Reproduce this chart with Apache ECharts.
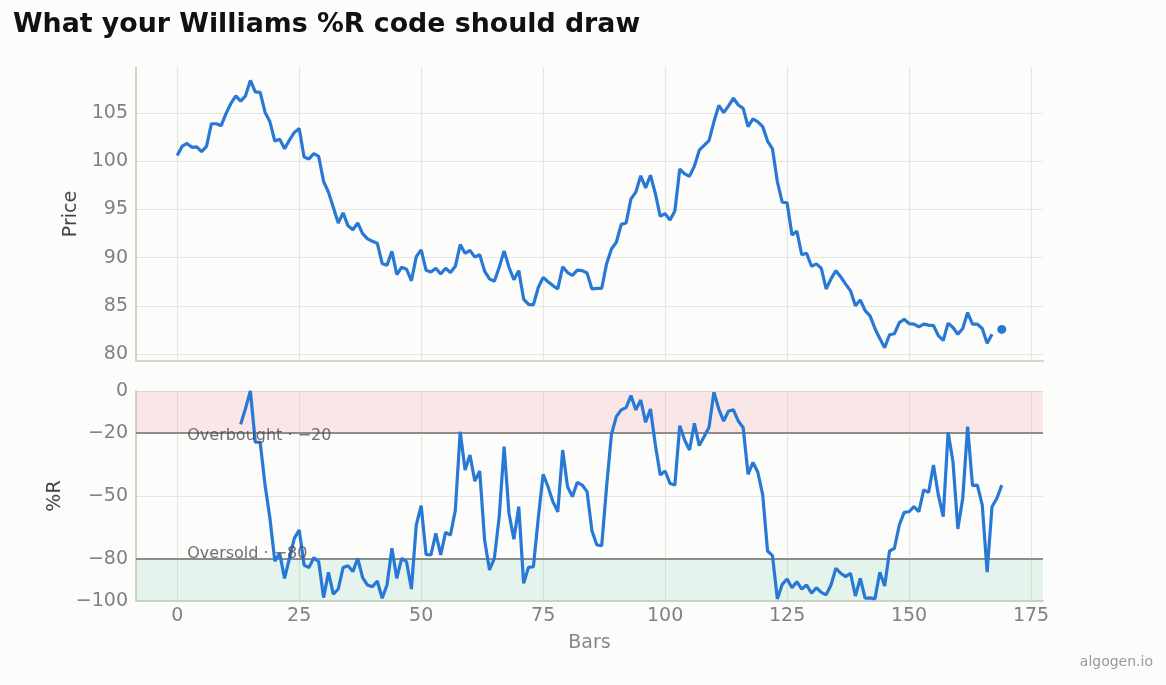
<!DOCTYPE html>
<html>
<head>
<meta charset="utf-8">
<title>Williams %R</title>
<script src="https://cdn.jsdelivr.net/npm/echarts@6/dist/echarts.min.js"></script>
<style>
	html, body { margin: 0; padding: 0; background: #fcfcfb; }
	#chart { width: 1166px; height: 685px; }
</style>
</head>
<body>
<div id="chart"></div>
<script>
//价格（第168根缺失）
var price = [
	100.6, 101.55, 101.85, 101.45, 101.5, 101.0, 101.55, 103.9, 103.9, 103.7,
	104.95, 106.0, 106.8, 106.25, 106.8, 108.4, 107.2, 107.15, 105.1, 104.1,
	102.1, 102.3, 101.3, 102.2, 103.0, 103.4, 100.45, 100.25, 100.8, 100.5,
	97.9, 96.8, 95.2, 93.6, 94.65, 93.3, 92.9, 93.6, 92.5, 91.95,
	91.7, 91.5, 89.4, 89.2, 90.65, 88.25, 89.0, 88.8, 87.6, 90.1,
	90.8, 88.7, 88.5, 88.9, 88.3, 88.9, 88.45, 89.1, 91.35, 90.45,
	90.75, 90.05, 90.3, 88.6, 87.8, 87.55, 89.0, 90.7, 89.0, 87.7,
	88.65, 85.7, 85.15, 85.1, 86.9, 87.95, 87.5, 87.1, 86.75, 89.05,
	88.45, 88.15, 88.7, 88.65, 88.4, 86.75, 86.8, 86.8, 89.35, 90.9,
	91.6, 93.45, 93.6, 96.1, 96.8, 98.5, 97.25, 98.55, 96.65, 94.3,
	94.55, 93.9, 94.85, 99.2, 98.7, 98.45, 99.5, 101.15, 101.65, 102.15,
	104.1, 105.8, 105.05, 105.75, 106.55, 105.85, 105.5, 103.6, 104.4, 104.1,
	103.6, 102.1, 101.3, 97.9, 95.75, 95.7, 92.35, 92.75, 90.3, 90.45,
	89.1, 89.35, 88.9, 86.75, 87.8, 88.65, 88.0, 87.25, 86.55, 85.0,
	85.6, 84.5, 83.95, 82.65, 81.6, 80.65, 82.0, 82.1, 83.25, 83.6,
	83.15, 83.1, 82.8, 83.1, 83.0, 82.95, 81.9, 81.4, 83.2, 82.75,
	82.05, 82.65, 84.3, 83.1, 83.1, 82.65, 81.1, 82.05, null, 82.55
];

//%R 从第13根开始
var wprStart = 13;
var wpr = [
	-15.9, -8.3, 0, -24.4, -24.4, -44.8, -60.6,
	-81.0, -77.3, -89.2, -79.7, -70.2, -66.2, -82.9, -84.1, -79.4, -81.3,
	-98.4, -86.3, -96.8, -94.3, -84.1, -83.2, -86.0, -79.7, -88.9, -92.4,
	-93.2, -90.5, -98.7, -92.4, -74.9, -89.2, -79.7, -81.3, -94.3, -63.8,
	-54.6, -77.8, -78.1, -67.8, -78.1, -67.3, -68.6, -56.7, -19.4, -37.6,
	-30.5, -42.9, -38.1, -71.0, -85.2, -79.7, -59.8, -26.5, -58.3, -70.6,
	-55.1, -91.6, -84.0, -83.7, -60.6, -39.7, -45.6, -52.7, -57.5, -28.1,
	-45.6, -50.3, -43.5, -44.8, -47.9, -66.5, -73.3, -73.7, -45.6, -20.6,
	-12.2, -9.0, -7.9, -2.2, -9.0, -4.3, -14.9, -8.6, -25.7, -40.0,
	-38.1, -44.0, -44.8, -16.5, -23.3, -28.1, -15.4, -26.0, -21.7, -17.3,
	-0.6, -8.6, -14.3, -9.5, -9.0, -14.3, -17.5, -39.7, -34.0, -38.7,
	-49.5, -76.2, -78.4, -99.0, -92.1, -89.5, -93.7, -90.8, -94.3, -92.4,
	-96.3, -93.7, -95.9, -97.1, -92.4, -84.4, -86.8, -88.4, -86.8, -97.6,
	-89.2, -98.7, -98.5, -99.0, -86.3, -92.9, -76.2, -74.9, -63.8, -57.8,
	-57.5, -55.1, -57.5, -47.1, -48.3, -35.2, -49.5, -59.8, -19.7, -33.7,
	-65.7, -51.1, -17.0, -45.1, -44.8, -54.3, -86.3, -55.1, -51.1, -44.8
];

//刻度
var xTicks = [0, 25, 50, 75, 100, 125, 150, 175];
var priceTicks = [80, 85, 90, 95, 100, 105];
var wprTicks = [0, -20, -50, -80, -100];
var overbought = -20;
var oversold = -80;
var levelLabels = ["Overbought · \u221220", "Oversold · \u221280"];

var blue = "#2878d6";
var axisCol = "#c8c8be";
var gridCol = "#e5e5e1";
var tickCol = "#808080";
var fontName = "DejaVu Sans";

function minus(v) {
	return String(v).replace("-", "\u2212");
}

var priceData = [];
for (var i = 0; i < price.length; i++) {
	priceData.push([i, price[i]]);
}
var lastIdx = price.length - 1;
var wprData = [];
for (var j = 0; j < wpr.length; j++) {
	wprData.push([wprStart + j, wpr[j]]);
}

function xAxisOf(idx, showLabel) {
	return {
		type: "value", gridIndex: idx, min: -8.45, max: 177.45,
		axisLine: { show: true, onZero: false, lineStyle: { color: axisCol, width: 1.6 } },
		axisTick: { show: false, customValues: xTicks },
		axisLabel: { show: showLabel, customValues: xTicks, color: tickCol, fontSize: 19, fontFamily: fontName, margin: 6 },
		splitLine: { show: true, lineStyle: { color: gridCol, width: 1.2 } },
		name: showLabel ? "Bars" : "", nameLocation: "middle", nameGap: 33,
		nameTextStyle: { color: "#888", fontSize: 19, fontFamily: fontName }
	};
}

function yAxisOf(idx, lo, hi, ticks, title, gap, fmt) {
	return {
		type: "value", gridIndex: idx, min: lo, max: hi,
		axisLine: { show: true, onZero: false, lineStyle: { color: axisCol, width: 1.6 } },
		axisTick: { show: false, customValues: ticks },
		axisLabel: { customValues: ticks, color: tickCol, fontSize: 19, fontFamily: fontName, margin: 8, formatter: fmt },
		splitLine: { show: true, lineStyle: { color: gridCol, width: 1.2 } },
		name: title, nameLocation: "middle", nameGap: gap,
		nameTextStyle: { color: "#444", fontSize: 19, fontFamily: fontName }
	};
}

var chart = echarts.init(document.getElementById("chart"));
chart.setOption({
	backgroundColor: "#fcfcfb",
	animation: false,
	title: {
		text: "What your Williams %R code should draw",
		left: 13, top: 12, padding: 0,
		textStyle: { fontSize: 26.8, fontWeight: "bold", color: "#111", fontFamily: fontName }
	},
	graphic: [{
		type: "text", right: 13, top: 655,
		style: { text: "algogen.io", fill: "#999", fontSize: 14, fontFamily: fontName }
	}],
	grid: [
		{ left: 136, top: 67, width: 907, height: 294 },
		{ left: 136, top: 391, width: 907, height: 210 }
	],
	xAxis: [xAxisOf(0, false), xAxisOf(1, true)],
	yAxis: [
		yAxisOf(0, 79.27, 109.79, priceTicks, "Price", 54, null),
		yAxisOf(1, -100, 0, wprTicks, "%R", 71, minus)
	],
	series: [{
		type: "line", xAxisIndex: 0, yAxisIndex: 0,
		data: priceData, showSymbol: false, connectNulls: false,
		lineStyle: { color: blue, width: 3.2 }, z: 5
	}, {
		type: "scatter", xAxisIndex: 0, yAxisIndex: 0,
		data: [priceData[lastIdx]], symbolSize: 9,
		itemStyle: { color: blue, opacity: 1 }, z: 5
	}, {
		type: "line", xAxisIndex: 1, yAxisIndex: 1,
		data: wprData, showSymbol: false,
		lineStyle: { color: blue, width: 3.2 }, z: 5,
		markArea: {
			silent: true,
			data: [
				[{ yAxis: overbought, itemStyle: { color: "rgba(235,150,150,0.2)" } }, { yAxis: 0 }],
				[{ yAxis: -100, itemStyle: { color: "rgba(110,200,160,0.17)" } }, { yAxis: oversold }]
			]
		},
		markLine: {
			silent: true, symbol: "none",
			label: { show: false },
			lineStyle: { color: "#8c8c88", width: 2, type: "solid" },
			data: [{ yAxis: overbought }, { yAxis: oversold }]
		}
	}, {
		type: "scatter", xAxisIndex: 1, yAxisIndex: 1,
		symbolSize: 0, silent: true, z: 6,
		data: [[2.05, -21.2, levelLabels[0]], [2.05, -77.6, levelLabels[1]]],
		label: {
			show: true, position: "right", distance: 0,
			formatter: function(p) { return p.data[2]; },
			color: "#4a4a4a", fontSize: 16, fontFamily: fontName
		}
	}]
});
</script>
</body>
</html>
